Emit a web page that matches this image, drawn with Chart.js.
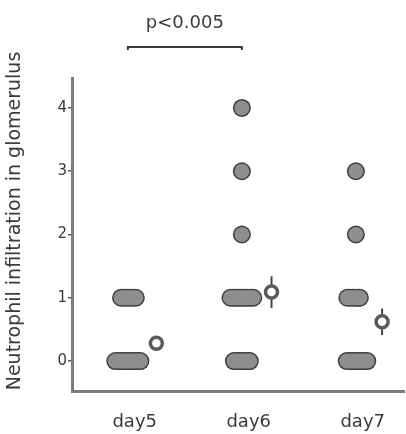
<!DOCTYPE html>
<html>
<head>
<meta charset="utf-8">
<script src="https://cdn.jsdelivr.net/npm/chart.js@4/dist/chart.umd.min.js"></script>
<style>
  html, body { margin: 0; padding: 0; background: #fff; }
</style>
</head>
<body>
<canvas id="chart" width="406" height="434"></canvas>
<script>
const categories = ['day5', 'day6', 'day7'];
const yTicks = [0, 1, 2, 3, 4];

// x position of each animal (scattered around its day), grouped by score
const day5Score0 = [0.83, 0.855, 0.88, 0.905, 0.93, 0.955, 0.98, 1.005, 1.03, 1.05];
const day5Score1 = [0.88, 0.905, 0.93, 0.955, 0.98, 1.01];
const day6Score0 = [1.87, 1.895, 1.92, 1.945, 1.97, 1.995, 2.01];
const day6Score1 = [1.84, 1.865, 1.89, 1.915, 1.94, 1.965, 1.99, 2.015, 2.04];
const day6Score2 = [1.94];
const day6Score3 = [1.94];
const day6Score4 = [1.94];
const day7Score0 = [2.86, 2.885, 2.91, 2.935, 2.96, 2.985, 3.01, 3.04];
const day7Score1 = [2.865, 2.89, 2.915, 2.94, 2.965, 2.975];
const day7Score2 = [2.94];
const day7Score3 = [2.94];

// mean +/- error, drawn to the right of each group
const meanX = [1.19, 2.2, 3.17];
const means = [0.28, 1.09, 0.62];
const errors = [0.1, 0.25, 0.21];

const bracket = [0.94, 1.94];
const pText = 'p<0.005';

const groups = [
  [day5Score0, 0], [day5Score1, 1],
  [day6Score0, 0], [day6Score1, 1], [day6Score2, 2], [day6Score3, 3], [day6Score4, 4],
  [day7Score0, 0], [day7Score1, 1], [day7Score2, 2], [day7Score3, 3]
];
const animals = [];
groups.forEach(([xs, score]) => xs.forEach(x => animals.push({ x: x, y: score })));

const axisGrey = '#7a7a7a';
const textColor = '#3a3a3a';

const datasets = [
  {
    data: animals, order: 4,
    pointRadius: 9, pointBackgroundColor: '#3e3e3e', pointBorderWidth: 0
  },
  {
    data: animals, order: 3,
    pointRadius: 7.5, pointBackgroundColor: '#8e8e8e', pointBorderWidth: 0
  }
];
means.forEach((m, i) => {
  datasets.push({
    data: [{ x: meanX[i], y: m - errors[i] }, { x: meanX[i], y: m + errors[i] }],
    order: 2, showLine: true, borderColor: '#444', borderWidth: 2, pointRadius: 0
  });
});
datasets.push({
  data: means.map((m, i) => ({ x: meanX[i], y: m })), order: 1,
  pointRadius: 6, pointBackgroundColor: '#fff', pointBorderColor: '#5a5a5a', pointBorderWidth: 3.5
});

const annotations = {
  id: 'annotations',
  afterDraw(chart) {
    const { ctx, scales: { x } } = chart;
    const x1 = x.getPixelForValue(bracket[0]);
    const x2 = x.getPixelForValue(bracket[1]);
    ctx.save();
    ctx.strokeStyle = textColor;
    ctx.lineWidth = 2;
    ctx.beginPath();
    ctx.moveTo(x1, 50);
    ctx.lineTo(x1, 47);
    ctx.lineTo(x2, 47);
    ctx.lineTo(x2, 50);
    ctx.stroke();
    ctx.fillStyle = textColor;
    ctx.font = '18px "DejaVu Sans"';
    ctx.textAlign = 'center';
    ctx.textBaseline = 'middle';
    ctx.fillText(pText, (x1 + x2) / 2, 23);

    ctx.translate(15, 221);
    ctx.rotate(-Math.PI / 2);
    ctx.font = '19px "DejaVu Sans"';
    ctx.fillText('Neutrophil infiltration in glomerulus', 0, 0);
    ctx.restore();
  }
};

const chart = new Chart(document.getElementById('chart').getContext('2d'), {
  type: 'scatter',
  data: { datasets: datasets },
  options: {
    responsive: false,
    animation: false,
    layout: { autoPadding: false, padding: { top: 78, right: 0, bottom: 0, left: 0 } },
    plugins: { legend: { display: false }, tooltip: { enabled: false } },
    scales: {
      x: {
        min: 0.45, max: 3.37,
        afterFit: s => { s.height = 43; },
        afterBuildTicks: s => { s.ticks = categories.map((c, i) => ({ value: i + 1 })); },
        grid: { display: false, drawTicks: false },
        border: { display: true, color: axisGrey, width: 3 },
        ticks: {
          padding: 21, color: textColor, font: { family: 'DejaVu Sans', size: 18 },
          callback: v => categories[v - 1]
        }
      },
      y: {
        min: -0.474, max: 4.474,
        afterFit: s => { s.width = 72; },
        afterBuildTicks: s => { s.ticks = yTicks.map(v => ({ value: v })); },
        grid: { drawOnChartArea: false, drawTicks: true, tickLength: 4, color: '#555', lineWidth: 1.5 },
        border: { display: true, color: axisGrey, width: 3 },
        ticks: { padding: 1, color: textColor, font: { family: 'DejaVu Sans', size: 15 } }
      }
    }
  },
  plugins: [annotations]
});

window.chart = chart;
</script>
</body>
</html>
